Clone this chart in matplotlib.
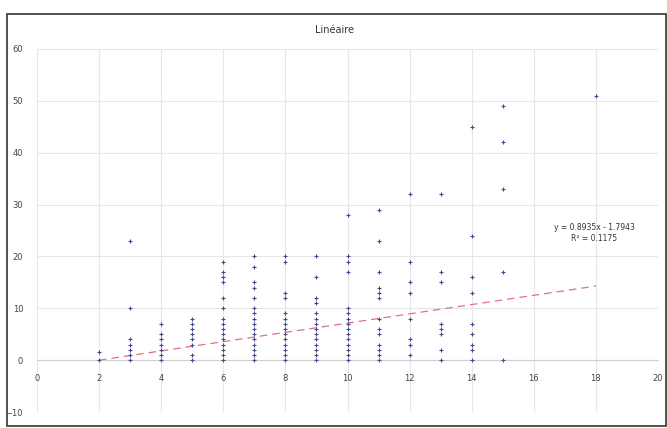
import matplotlib
matplotlib.use("Agg")
import matplotlib.pyplot as plt
from matplotlib.patches import Rectangle
import numpy as np

# ---- data ----
x_values = [2, 3, 4, 5, 6, 7, 8, 9, 10, 11, 12, 13, 14, 15, 18]
y_columns = [
    [0, 1.5],
    [0, 1, 2, 3, 4, 10, 23],
    [0, 1, 2, 3, 4, 5, 7],
    [0, 1, 3, 4, 5, 6, 7, 8],
    [0, 1, 2, 3, 4, 5, 6, 7, 8, 10, 12, 15, 16, 17, 19],
    [0, 1, 2, 3, 4, 5, 6, 7, 8, 9, 10, 12, 14, 15, 18, 20],
    [0, 1, 2, 3, 4, 5, 6, 7, 8, 9, 12, 13, 19, 20],
    [0, 1, 2, 3, 4, 5, 6, 7, 8, 9, 11, 12, 16, 20],
    [0, 1, 2, 3, 4, 5, 6, 7, 8, 9, 10, 17, 19, 20, 28],
    [0, 1, 2, 3, 5, 6, 8, 12, 13, 14, 17, 23, 29],
    [1, 3, 4, 8, 13, 15, 19, 32],
    [0, 2, 5, 6, 7, 15, 17, 32],
    [0, 2, 3, 5, 7, 13, 16, 24, 45],
    [0, 17, 33, 42, 49],
    [51],
]
trend_slope = 0.8935
trend_intercept = -1.7943
trend_r2 = 0.1175
title = "Linéaire"
x_ticks = [0, 2, 4, 6, 8, 10, 12, 14, 16, 18, 20]
y_ticks = [-10, 0, 10, 20, 30, 40, 50, 60]

xs = np.concatenate([[x] * len(c) for x, c in zip(x_values, y_columns)])
ys = np.concatenate([np.array(c, dtype=float) for c in y_columns])

fig = plt.figure(figsize=(6.67, 4.28), dpi=100)
fig.patches.append(Rectangle((7 / 667, 0.004), 0.998 - 7 / 667, 0.967 - 0.004,
                             transform=fig.transFigure, fill=False,
                             edgecolor="#333333", linewidth=1.2))

ax = fig.add_axes([37 / 667, 1 - 412 / 428, (658 - 37) / 667, (412 - 49) / 428])
ax.set_xlim(0, 20)
ax.set_ylim(-10, 60)
ax.set_xticks(x_ticks)
ax.set_yticks(y_ticks)
ax.grid(True, color="#e6e6e6", linewidth=0.8)
ax.set_axisbelow(True)
for s in ["top", "right", "left"]:
    ax.spines[s].set_visible(False)
ax.spines["bottom"].set_position(("data", 0))
ax.spines["bottom"].set_color("#cfcfcf")
ax.tick_params(length=0, labelsize=6, colors="#444444")
ax.tick_params(axis="y", pad=10)
ax.tick_params(axis="x", pad=10)

ax.scatter(xs, ys, marker="+", s=10, color="#44488f", linewidths=0.8, zorder=3)

tx = np.array([min(x_values), max(x_values)])
ax.plot(tx, trend_slope * tx + trend_intercept, linestyle=(0, (6, 4)),
        color="#e07080", linewidth=0.9, zorder=2)

ax.text(17.95, 24.5, f"y = {trend_slope}x - {abs(trend_intercept)}\nR² = {trend_r2}",
        fontsize=5.5, ha="center", va="center", color="#333333", linespacing=1.2)

fig.text(0.502, 0.93, title, ha="center", va="center", fontsize=7, color="#333333")

fig.savefig("out.png", dpi=100)
